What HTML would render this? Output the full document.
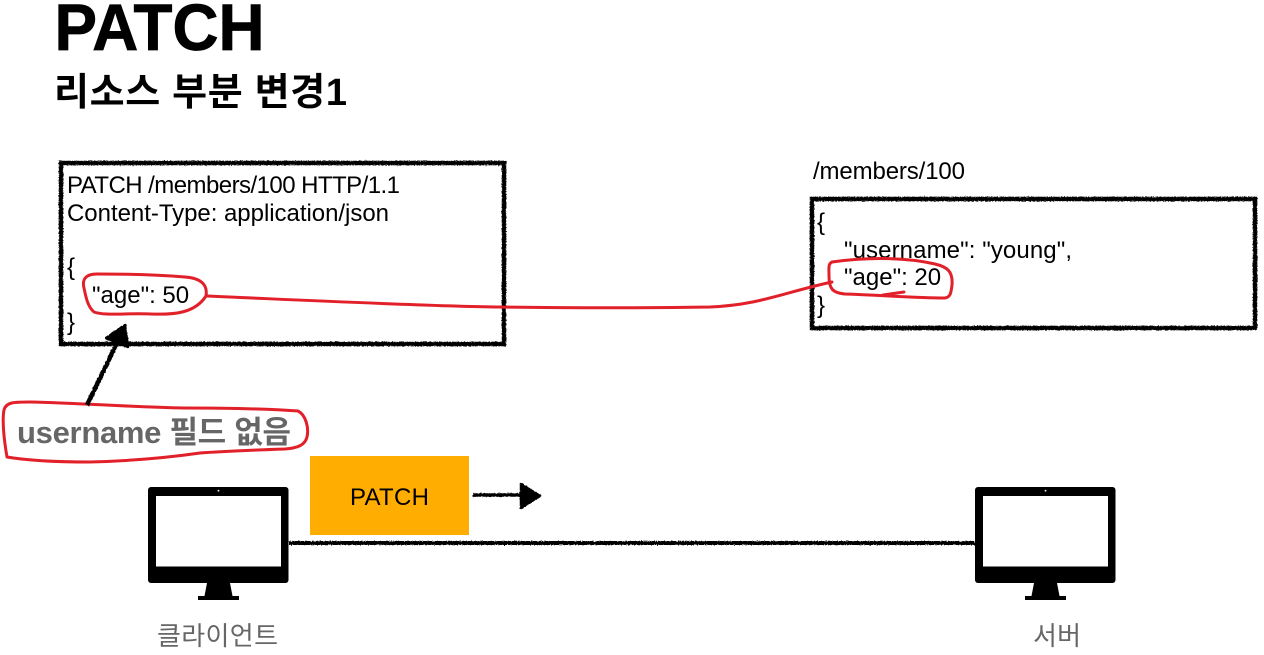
<!DOCTYPE html>
<html><head><meta charset="utf-8">
<style>
html,body{margin:0;padding:0;background:#fff;width:1264px;height:655px;overflow:hidden}
svg{display:block}
text{font-family:"Liberation Sans","Noto Sans CJK KR",sans-serif;fill:#000}
</style></head>
<body>
<svg width="1264" height="655" viewBox="0 0 1264 655" xmlns="http://www.w3.org/2000/svg">
<defs>
<filter id="r" x="-5%" y="-5%" width="110%" height="110%" filterUnits="objectBoundingBox">
<feTurbulence type="fractalNoise" baseFrequency="0.7" numOctaves="2" seed="3"/>
<feDisplacementMap in="SourceGraphic" scale="2.5" xChannelSelector="R" yChannelSelector="G"/>
</filter>
<filter id="a" filterUnits="userSpaceOnUse" x="60" y="300" width="500" height="120">
<feTurbulence type="fractalNoise" baseFrequency="0.5" numOctaves="2" seed="8"/>
<feDisplacementMap in="SourceGraphic" scale="2" xChannelSelector="R" yChannelSelector="G"/>
</filter>
<filter id="b" filterUnits="userSpaceOnUse" x="460" y="470" width="100" height="50">
<feTurbulence type="fractalNoise" baseFrequency="0.5" numOctaves="2" seed="8"/>
<feDisplacementMap in="SourceGraphic" scale="2" xChannelSelector="R" yChannelSelector="G"/>
</filter>
<filter id="l" filterUnits="userSpaceOnUse" x="270" y="530" width="720" height="30">
<feTurbulence type="fractalNoise" baseFrequency="0.7" numOctaves="2" seed="5"/>
<feDisplacementMap in="SourceGraphic" scale="2.5" xChannelSelector="R" yChannelSelector="G"/>
</filter>
<g id="mon">
<rect x="148" y="487" width="140.500" height="96" rx="3" fill="#000"/>
<rect x="156" y="496" width="125" height="70.5" fill="#fff"/>
<circle cx="218.500" cy="490.700" r="0.900" fill="#fff"/>
<path d="M207 583H230L232.500 596H204.500Z" fill="#000"/>
<rect x="198" y="596" width="41" height="4" fill="#000"/>
</g>
</defs>

<text x="54.500" y="50" font-size="66" font-weight="700" stroke="#000" stroke-width="0.800" textLength="210" lengthAdjust="spacingAndGlyphs">PATCH</text>
<text x="54" y="105" font-size="38" font-weight="700" textLength="293">리소스 부분 변경1</text>

<rect x="61" y="163" width="443" height="181" fill="none" stroke="#000" stroke-width="4.500" filter="url(#r)"/>
<rect x="812" y="199" width="443" height="129" fill="none" stroke="#000" stroke-width="4.500" filter="url(#r)"/>

<g font-size="24">
<text x="67" y="193" textLength="333">PATCH /members/100 HTTP/1.1</text>
<text x="67" y="221" textLength="322">Content-Type: application/json</text>
<text x="67" y="275">{</text>
<text x="92" y="303">"age": 50</text>
<text x="67" y="330">}</text>
<text x="813" y="179" textLength="152">/members/100</text>
<text x="817" y="230">{</text>
<text x="844" y="258" textLength="228">"username": "young",</text>
<text x="844" y="285">"age": 20</text>
<text x="817" y="313">}</text>
</g>

<g fill="none" stroke="#E2202A" stroke-width="3" stroke-linecap="round" stroke-linejoin="round">
<path d="M206 296C208 284 200 278 185 277C160 275 125 274 97 274C85 274 82 280 84 288C86 298 88 307 94 312C105 316 125 313 150 314C175 315 195 313 206 296"/>
<path d="M206 296C300 300 420 306 500 307C570 308 650 308 710 307C760 305 785 292 832 282"/>
<path d="M832 262C860 258 900 256 935 264C948 267 953 272 952 285C951 292 951 297 945 298C915 298 880 295 845 294C832 293 829 288 829 276C829 268 828 264 832 262Z"/>
<path d="M883 295L904 292"/>
<path d="M7 457C4 440 2 420 4 410C6 402 14 402 30 402C80 403 130 407 183 408C230 408 270 409 298 411C306 415 309 428 307 437C305 445 298 448 285 449C255 450 225 451 200 453C165 458 130 461 90 462C60 462 30 461 7 457"/>
</g>

<g fill="#000" stroke="#000" filter="url(#a)">
<line x1="87" y1="405" x2="117" y2="343" stroke-width="4.500"/>
<path d="M125 325L106 338L128 347Z" stroke-width="2.500" stroke-linejoin="round"/>
</g>
<g fill="#000" stroke="#000" filter="url(#b)">
<line x1="473" y1="495" x2="522" y2="495" stroke-width="3.500"/>
<path d="M521 484L540 496L521 508Z" stroke-width="2.500" stroke-linejoin="round"/>
</g>

<text x="17" y="443" font-size="31" font-weight="700" style="fill:#666" textLength="274">username 필드 없음</text>

<rect x="310" y="456" width="159" height="79" fill="#FFAD00"/>
<text x="350" y="505" font-size="24" textLength="79">PATCH</text>

<line x1="289" y1="543" x2="975" y2="543" stroke="#000" stroke-width="4" filter="url(#l)"/>

<use href="#mon"/>
<use href="#mon" x="827"/>

<text x="157" y="645" font-size="26" style="fill:#666" textLength="121">클라이언트</text>
<text x="1033" y="645" font-size="26" style="fill:#666" textLength="48">서버</text>
</svg>
</body></html>
